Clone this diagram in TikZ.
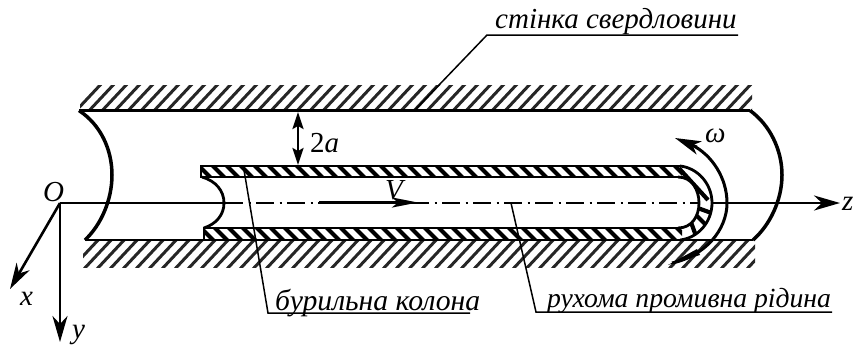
\documentclass[tikz,border=0pt]{standalone}
\usepackage{fontspec}
\setmainfont{Liberation Serif}
\usetikzlibrary{arrows.meta}
\tikzset{
  lbl/.style={font=\fontsize{29}{31}\selectfont\itshape,inner sep=0pt,anchor=base west},
  wallline/.style={line width=2.4pt},
  arcline/.style={line width=3.5pt},
  tubearc/.style={line width=2.8pt},
  leader/.style={line width=1.5pt},
  hatchw/.style={line width=3pt,black!85},
  hatcht/.style={line width=4.2pt,black},
  tip/.style={-{Stealth[length=26pt,width=15pt,inset=8pt]},line width=2.6pt},
}
\begin{document}
\begin{tikzpicture}[x=1pt,y=-1pt]
\useasboundingbox (0,0) rectangle (854,349);
% hatching of walls
\begin{scope}
\clip (80,85) rectangle (752,110);
\foreach \i in {0,...,56} \draw[hatchw] (73+13*\i,114) -- ++(30,-32);
\end{scope}
\begin{scope}
\clip (83,240) rectangle (755,267);
\foreach \i in {0,...,56} \draw[hatchw] (70+13*\i,270) -- ++(30,-32);
\end{scope}
% tube hatching
\begin{scope}
\clip (201,166) rectangle (682,177);
\foreach \i in {0,...,36} \draw[hatcht] (196+14*\i,163) -- ++(17,17);
\end{scope}
\begin{scope}
\clip (204,228) rectangle (682,240);
\foreach \i in {0,...,36} \draw[hatcht] (198+14*\i,225) -- ++(17,17);
\end{scope}
\begin{scope}
\clip (680,165) .. controls (698,166) and (712,184) .. (712,203) .. controls (712,222) and (698,240) .. (680,240)
 -- (678,228) .. controls (692,228) and (699,216) .. (699,203) .. controls (699,190) and (692,177) .. (678,177) -- cycle;
\foreach \a in {20,45,70} \draw[hatcht] (684,203) ++(\a:10) -- ++(\a:30);
\draw[hatcht] (676,165) -- (708,200);
\end{scope}
% wall lines
\coordinate (tl) at (79,110.5); \coordinate (tr) at (750,110.5);
\coordinate (bl) at (85,240); \coordinate (br) at (753,240);
\draw[wallline] (tl) -- (tr);
\draw[wallline] (bl) -- (br);
\draw[arcline] (tl) .. controls (101,125) and (112,150) .. (112,175) .. controls (112,200) and (101,225) .. (bl);
\draw[arcline] (tr) .. controls (770,125) and (782,150) .. (782,175) .. controls (782,200) and (770,225) .. (br);
% tube
\draw[wallline] (681,166) -- (201,166) -- (201,177) -- (680,177);
\draw[wallline] (681,240) -- (204,240) -- (204,228) -- (680,228);
\draw[tubearc] (680,166) .. controls (698,168) and (712,184) .. (712,203) .. controls (712,222) and (698,238) .. (680,240);
\draw[tubearc] (678,177) .. controls (692,177) and (699,190) .. (699,203) .. controls (699,216) and (692,228) .. (678,228);
\draw[tubearc] (202,177) .. controls (216,181) and (224,191) .. (224,203) .. controls (224,215) and (216,224) .. (204,228);
% axes
\coordinate (O) at (60,203);
\node[lbl] (lO) at (43,201) {O};
\node[lbl] (lx) at (20,305) {x};
\node[lbl] (ly) at (72,338) {y};
\node[lbl] (lz) at (842,210) {z};
\draw[line width=1.7pt] (O) -- (225,203);
\draw[line width=1.7pt,dash pattern=on 18pt off 5.5pt on 2pt off 5.5pt] (225,203) -- (700,203);
\coordinate (zend) at (840,203);
\draw[tip] (712,203) -- (zend);
\coordinate (xend) at (10,289);
\coordinate (yend) at (60,342);
\draw[tip] (O) -- (xend);
\draw[tip] (O) -- (yend);
% omega
\draw[line width=3pt] (692,145) .. controls (712,155) and (727,178) .. (727,203) .. controls (727,230) and (705,256) .. (672,263);
\fill (668,265) -- (697,249) -- (700,255) -- cycle;
\draw[-{Stealth[length=26pt,width=14pt,inset=7pt]},line width=2.6pt] (697,147) -- (675,138);
\node[lbl] (lw) at (705,142) {ω};
% 2a
\draw[{Stealth[length=17pt,width=11pt,inset=3pt]}-{Stealth[length=17pt,width=11pt,inset=3pt]},line width=2.4pt] (298,112) -- (298,165);
\node[lbl] (la) at (310,152) {\upshape 2\itshape a};
% V
\draw[-{Stealth[length=26pt,width=10pt,inset=6pt]},line width=3pt] (319,202.5) -- (418,202.5);
\node[lbl] (lv) at (385,199) {V};
% leaders
\coordinate (w1) at (415,110); \coordinate (w2) at (487,35); \coordinate (w3) at (738,35);
\draw[leader] (w1) -- (w2) -- (w3);
\node[lbl] (lwall) at (495,28) {стінка свердловини};
\coordinate (k1) at (244,170); \coordinate (k2) at (268,313); \coordinate (k3) at (470,313);
\draw[leader] (k1) -- (k2) -- (k3);
\node[lbl,font=\fontsize{29.7}{31}\selectfont\itshape] (lk) at (275,310) {бурильна колона};
\coordinate (r1) at (511,203); \coordinate (r2) at (536,312); \coordinate (r3) at (832,312);
\draw[leader] (r1) -- (r2) -- (r3);
\node[lbl,font=\fontsize{27.7}{31}\selectfont\itshape] (lr) at (547,307) {рухома промивна рідина};
\end{tikzpicture}
\end{document}
